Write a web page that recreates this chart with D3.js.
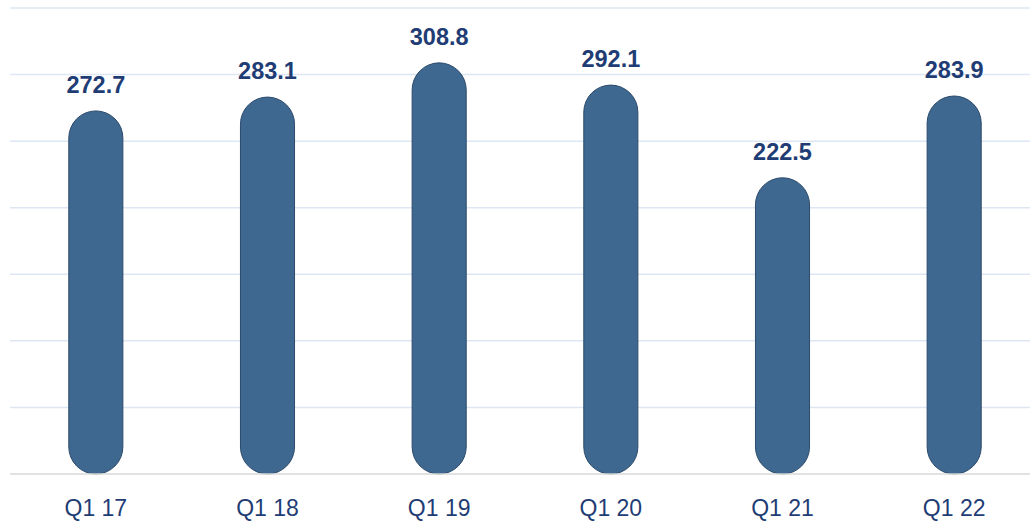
<!DOCTYPE html>
<html>
<head>
<meta charset="utf-8">
<script src="https://cdn.jsdelivr.net/npm/d3@7"></script>
<style>
  body { margin: 0; background: #fff; }
  svg { display: block; }
</style>
</head>
<body>
<div id="chart"></div>
<script>
// Data
const categories = ["Q1 17", "Q1 18", "Q1 19", "Q1 20", "Q1 21", "Q1 22"];
const values = [272.7, 283.1, 308.8, 292.1, 222.5, 283.9];
const gridTicks = [0, 50, 100, 150, 200, 250, 300, 350];

const W = 1030, H = 521;
const svg = d3.select("#chart")
  .append("svg")
    .attr("width", W)
    .attr("height", H);

// Scales
const x = d3.scaleBand()
    .domain(categories)
    .range([10, 1040])
    .paddingInner(0.685)
    .paddingOuter(0.3425);

const y = d3.scaleLinear()
    .domain([0, 350])
    .range([474, 8]);

// Gridlines
svg.append("g")
  .selectAll("line")
  .data(gridTicks.filter(d => d > 0))
  .join("line")
    .attr("x1", 10)
    .attr("x2", W)
    .attr("y1", d => y(d))
    .attr("y2", d => y(d))
    .attr("stroke", "#dde7f3")
    .attr("stroke-width", 1.5);

// Bars: pill shape, rounded at both ends
const bw = x.bandwidth();
svg.append("g")
  .selectAll("rect")
  .data(values)
  .join("rect")
    .attr("x", (d, i) => x(categories[i]))
    .attr("y", d => y(d))
    .attr("width", bw)
    .attr("height", d => y(0) - y(d))
    .attr("rx", bw / 2)
    .attr("ry", bw / 2)
    .attr("fill", "#3e6890")
    .attr("stroke", "#2c4a6b")
    .attr("stroke-width", 1);

// Baseline
svg.append("line")
    .attr("x1", 10)
    .attr("x2", W)
    .attr("y1", y(0))
    .attr("y2", y(0))
    .attr("stroke", "#d9d9d9")
    .attr("stroke-width", 1.5);

// Value labels
svg.append("g")
  .selectAll("text")
  .data(values)
  .join("text")
    .attr("x", (d, i) => x(categories[i]) + bw / 2)
    .attr("y", d => y(d) - 18)
    .attr("text-anchor", "middle")
    .style("font-family", "'Liberation Sans', Arial, sans-serif")
    .style("font-size", "23.5px")
    .style("font-weight", "bold")
    .style("fill", "#1f3d74")
    .text(d => d.toFixed(1));

// Category labels
svg.append("g")
  .selectAll("text")
  .data(categories)
  .join("text")
    .attr("x", d => x(d) + bw / 2)
    .attr("y", 516)
    .attr("text-anchor", "middle")
    .style("font-family", "'Liberation Sans', Arial, sans-serif")
    .style("font-size", "23px")
    .style("fill", "#1f3d74")
    .text(d => d);
</script>
</body>
</html>
